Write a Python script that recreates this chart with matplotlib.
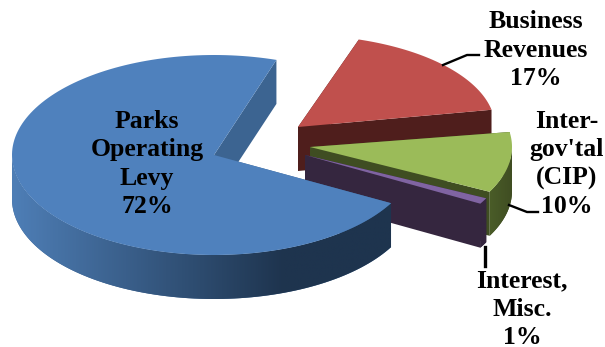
import numpy as np
import matplotlib
matplotlib.use("Agg")
import matplotlib.pyplot as plt
from matplotlib.colors import LinearSegmentedColormap
from matplotlib.patches import Polygon

# pie values, anticlockwise from the top cut of the big slice
names = ["Parks\nOperating\nLevy", "Interest,\nMisc.", "Inter-\ngov'tal\n(CIP)", "Business\nRevenues"]
shares = [72, 1, 10, 17]
top_colors = ["#4f81bd", "#8064a2", "#9bbb59", "#c0504d"]
cut_colors = ["#3c6491", "#35263f", "#3f4d22", "#4f1e1c"]
side_left = ["#4e7eb6", "#35263f", "#4a5c28", "#5a2523"]
side_right = ["#1e344e", "#35263f", "#3f4d22", "#4f1e1c"]

# slice apex on the canvas and squashed radii, the exploded slices sit off centre
centers = [(214, 155), (305, 155), (310, 147), (298, 127)]
radii_x = [202, 202, 202, 197]
radii_y = [100, 98, 98, 92]
turn = [0, -1, -2, 0]
DEPTH = 44
START = 72


def rim(i, a0, a1, n=160):
    cx, cy = centers[i]
    t = np.radians(np.linspace(a0, a1, n) + turn[i])
    return cx + radii_x[i] * np.cos(t), cy - radii_y[i] * np.sin(t), t


def draw_slice(ax, i, a0, a1, z):
    cx, cy = centers[i]
    x, y, t = rim(i, a0, a1)
    # flat faces along the two cuts
    for ex, ey in [(x[0], y[0]), (x[-1], y[-1])]:
        ax.add_patch(Polygon([(cx, cy), (ex, ey), (ex, ey + DEPTH), (cx, cy + DEPTH)],
                             color=cut_colors[i], lw=0, zorder=z))
    # outer wall, only the part facing front, shaded left to right
    front = np.sin(t) <= 0
    if front.any():
        wx, wy = x[front], y[front]
        wall = Polygon(np.column_stack([np.r_[wx, wx[::-1]], np.r_[wy, wy[::-1] + DEPTH]]),
                       color=cut_colors[i], lw=0, zorder=z)
        ax.add_patch(wall)
        cmap = LinearSegmentedColormap.from_list("wall", [side_left[i], side_right[i]])
        # the big slice is already at its darkest before the right end
        ramp = np.clip(np.linspace(0, 1, 256) / (0.72 if i == 0 else 1), 0, 1)
        shade = ax.imshow(ramp[None, :], cmap=cmap, vmin=0, vmax=1, aspect="auto", zorder=z + 0.1,
                          extent=(wx.min(), wx.max(), wy.max() + DEPTH, wy.min()))
        shade.set_clip_path(wall)
    ax.add_patch(Polygon(np.column_stack([np.r_[cx, x], np.r_[cy, y]]),
                         color=top_colors[i], lw=0, zorder=z + 0.2))


fig = plt.figure(figsize=(6.05, 3.47), dpi=100)
ax = fig.add_axes([0, 0, 1, 1])
ax.axis("off")

angles = START + np.cumsum([0] + [s * 3.6 for s in shares])
# back to front: business, grants, interest, then the big slice
for z, i in enumerate([3, 2, 1, 0]):
    draw_slice(ax, i, angles[i], angles[i + 1], z + 1)
ax.set_xlim(0, 605)
ax.set_ylim(347, 0)

# leader lines
ax.plot([443, 467, 479], [65, 55, 55], color="black", lw=1.7, zorder=20)
ax.plot([509, 527, 538], [205, 212, 212], color="black", lw=1.7, zorder=20)
ax.plot([485, 485], [247, 266], color="black", lw=2.4, zorder=20)

text_style = dict(ha="center", va="center", family="Liberation Serif", weight="bold",
                  fontsize=18.5, linespacing=1.28, color="black", zorder=21)
ax.text(147, 164, f"{names[0]}\n{shares[0]}%", **text_style)
ax.text(536, 50, f"{names[3]}\n{shares[3]}%", **text_style)
ax.text(567, 164, f"{names[2]}\n{shares[2]}%", **text_style)
ax.text(522, 309, f"{names[1]}\n{shares[1]}%", **text_style)

fig.savefig("out.png", dpi=100)
